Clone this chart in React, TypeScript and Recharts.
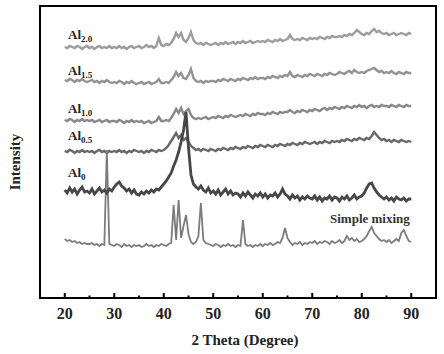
import React from "react";
import { LineChart, Line, XAxis, YAxis, ReferenceArea } from "recharts";

// 2θ sampling grid, 0.5° step from 20 to 90
const THETA = Array.from({ length: 141 }, (_, i) => 20 + i * 0.5);

// intensities (arbitrary units, traces stacked with offsets already included)
const AL_2_0 = [
  251, 250, 252, 251, 250, 252, 251, 249, 251, 252,
  250, 251, 249, 251, 252, 250, 251, 250, 252, 250,
  251, 250, 252, 250, 251, 249, 251, 252, 250, 251,
  252, 250, 251, 253, 251, 252, 250, 252, 260, 253,
  252, 254, 253, 255, 259, 265, 261, 265, 258, 256,
  260, 266, 258, 255, 254, 255, 253, 255, 254, 253,
  254, 255, 253, 255, 254, 256, 254, 255, 256, 254,
  256, 255, 257, 255, 256, 257, 255, 256, 257, 256,
  257, 256, 258, 257, 256, 258, 257, 259, 257, 258,
  259, 263, 259, 258, 259, 258, 260, 259, 258, 260,
  259, 260, 259, 261, 260, 259, 261, 260, 262, 261,
  261, 262, 261, 263, 262, 264, 263, 265, 268, 266,
  264, 263, 265, 264, 267, 269, 266, 267, 265, 264,
  265, 263, 264, 265, 263, 264, 265, 264, 263, 265,
  264,
];
const AL_1_5 = [
  218, 217, 219, 218, 216, 218, 217, 219, 217, 216,
  217, 218, 216, 217, 215, 217, 216, 218, 216, 215,
  216, 215, 217, 216, 214, 216, 215, 217, 215, 214,
  215, 216, 214, 215, 216, 214, 215, 216, 219, 215,
  215, 216, 215, 218, 221, 226, 222, 225, 220, 219,
  223, 229, 220, 217, 216, 217, 215, 217, 216, 217,
  217, 216, 218, 217, 219, 218, 217, 219, 218, 217,
  219, 218, 220, 219, 218, 220, 219, 221, 219, 220,
  220, 219, 221, 220, 222, 221, 220, 222, 221, 223,
  222, 226, 222, 221, 223, 222, 221, 223, 222, 224,
  223, 222, 224, 223, 222, 224, 223, 225, 224, 223,
  224, 226, 225, 224, 226, 227, 225, 228, 226, 225,
  226, 225, 227, 228, 229, 230, 228, 226, 227, 225,
  226, 225, 227, 225, 224, 226, 225, 224, 226, 225,
  225,
];
const AL_1_0 = [
  178, 177, 179, 178, 176, 178, 177, 179, 177, 178,
  177, 178, 176, 177, 178, 176, 177, 178, 176, 177,
  177, 176, 178, 177, 175, 177, 176, 178, 176, 177,
  176, 177, 175, 176, 177, 175, 176, 177, 181, 177,
  177, 178, 177, 180, 184, 189, 185, 190, 184, 187,
  189, 183, 180, 179, 180, 179, 180, 181, 179, 180,
  181, 180, 182, 181, 180, 182, 181, 183, 182, 181,
  182, 183, 182, 184, 183, 182, 184, 183, 185, 184,
  184, 183, 185, 184, 186, 185, 184, 186, 185, 186,
  186, 188, 186, 185, 187, 186, 188, 187, 186, 188,
  187, 189, 188, 187, 189, 190, 188, 190, 189, 191,
  190, 189, 191, 190, 192, 191, 190, 192, 191, 193,
  191, 192, 190, 192, 193, 191, 192, 191, 193, 192,
  192, 191, 193, 192, 191, 193, 192, 191, 193, 192,
  192,
];
const AL_0_5 = [
  147, 146, 148, 147, 145, 147, 146, 148, 146, 147,
  146, 147, 145, 147, 148, 146, 147, 145, 147, 146,
  147, 146, 148, 146, 147, 145, 147, 146, 148, 147,
  146, 147, 145, 147, 146, 148, 147, 146, 148, 147,
  148, 150, 153, 157, 161, 165, 160, 163, 158, 160,
  156, 152, 150, 148, 149, 147, 149, 148, 147, 149,
  148, 147, 149, 148, 150, 149, 148, 150, 149, 151,
  150, 149, 151, 150, 152, 151, 150, 152, 151, 153,
  152, 151, 153, 152, 151, 153, 152, 154, 153, 152,
  154, 153, 155, 154, 153, 155, 154, 156, 155, 154,
  155, 156, 154, 156, 155, 157, 156, 155, 157, 156,
  157, 156, 158, 157, 159, 158, 157, 159, 158, 160,
  159, 158, 160, 159, 162, 166, 163, 160, 158, 159,
  157, 158, 156, 158, 157, 156, 158, 157, 156, 157,
  156,
];
const AL_0 = [
  108, 105, 110, 106, 109, 104, 108, 111, 106, 107,
  105, 109, 104, 107, 110, 106, 108, 105, 109, 107,
  111, 114, 116, 112, 110, 107, 109, 105, 108, 104,
  103, 106, 104, 107, 105, 108, 106, 109, 108, 111,
  114, 117, 121, 125, 132, 138, 146, 156, 168, 186,
  150, 123, 114, 111, 109, 112, 108, 106, 110, 105,
  107, 104, 108, 103, 106, 109, 104, 107, 103, 105,
  104, 101, 105, 102, 106, 103, 100, 104, 102, 105,
  101, 104, 100, 103, 102, 105, 101, 104, 109, 104,
  102, 99, 103, 100, 102, 98, 101, 99, 102, 100,
  99, 102, 98, 101, 97, 100, 99, 102, 98, 101,
  100, 97, 101, 99, 102, 98, 100, 103, 99, 101,
  102, 105, 110, 114, 115, 110, 106, 103, 101, 99,
  101, 98, 100, 97, 101, 99, 98, 100, 97, 99,
  99,
];
const SIMPLE_MIX = [
  59, 57, 58, 56, 57, 55, 56, 54, 55, 54,
  54, 55, 53, 54, 52, 54, 53, 148, 54, 53,
  52, 54, 53, 51, 54, 52, 53, 51, 53, 52,
  53, 51, 52, 54, 52, 53, 51, 53, 52, 54,
  53, 52, 54, 55, 93, 58, 98, 60, 72, 83,
  64, 56, 54, 56, 62, 95, 58, 55, 54, 53,
  52, 54, 53, 51, 53, 52, 54, 52, 53, 51,
  53, 52, 78, 54, 52, 53, 51, 53, 52, 54,
  52, 54, 53, 55, 53, 54, 56, 55, 60, 70,
  60, 56, 53, 55, 54, 56, 53, 55, 54, 56,
  55, 57, 54, 56, 55, 57, 56, 54, 57, 55,
  56, 58, 55, 57, 62, 58, 60, 57, 59, 56,
  57, 59, 62, 67, 71, 65, 62, 59, 57, 58,
  56, 58, 55, 57, 59, 57, 65, 68, 62, 57,
  56,
];

const X_TICKS = [20, 25, 30, 35, 40, 45, 50, 55, 60, 65, 70, 75, 80, 85, 90];

const data = THETA.map((t, i) => ({
  t,
  a20: AL_2_0[i],
  a15: AL_1_5[i],
  a10: AL_1_0[i],
  a05: AL_0_5[i],
  a0: AL_0[i],
  mix: SIMPLE_MIX[i],
}));

const SERIF = "'Liberation Serif', 'DejaVu Serif', serif";

function Tick(props: any) {
  const { x, y, payload } = props;
  const major = payload.value % 10 === 0;
  return (
    <g>
      <line x1={x} x2={x} y1={y} y2={y - (major ? 5 : 2.5)} stroke="#000" strokeWidth={2} />
      {major && (
        <text x={x} y={y + 21} textAnchor="middle" fontFamily={SERIF} fontWeight="bold" fontSize={16} fill="#222">
          {payload.value}
        </text>
      )}
    </g>
  );
}

function SampleLabel({ x, y, sub }: { x: number; y: number; sub: string }) {
  return (
    <text x={x} y={y} fontFamily={SERIF} fontWeight="bold" fontSize={13} fill="#222">
      Al
      <tspan fontSize={9} dy={3}>{sub}</tspan>
    </text>
  );
}

export default function App() {
  return (
    <div style={{ position: "absolute", left: 0, top: 0, width: 444, height: 354, background: "#fff" }}>
      <LineChart width={444} height={354} data={data} margin={{ top: 6, right: 8, left: 40, bottom: 26 }}>
        <XAxis
          dataKey="t"
          type="number"
          domain={[15, 95]}
          ticks={X_TICKS}
          interval={0}
          height={30}
          axisLine={false}
          tickLine={false}
          tickSize={0}
          tickMargin={0}
          tick={<Tick />}
          allowDataOverflow
        />
        <YAxis hide domain={[0, 292]} />
        <ReferenceArea x1={15} x2={95} y1={0} y2={292} fill="none" stroke="#000" strokeWidth={2} ifOverflow="visible" />
        <Line dataKey="a20" stroke="#9c9c9c" strokeWidth={2.4} dot={false} isAnimationActive={false} />
        <Line dataKey="a15" stroke="#929292" strokeWidth={2.4} dot={false} isAnimationActive={false} />
        <Line dataKey="a10" stroke="#888888" strokeWidth={2.4} dot={false} isAnimationActive={false} />
        <Line dataKey="a05" stroke="#686868" strokeWidth={2.4} dot={false} isAnimationActive={false} />
        <Line dataKey="mix" stroke="#7c7c7c" strokeWidth={1.8} dot={false} isAnimationActive={false} />
        <Line dataKey="a0" stroke="#474747" strokeWidth={2.8} dot={false} isAnimationActive={false} />
      </LineChart>
      <svg width={444} height={354} style={{ position: "absolute", left: 0, top: 0, pointerEvents: "none" }}>
        <SampleLabel x={68} y={39} sub="2.0" />
        <SampleLabel x={68} y={75} sub="1.5" />
        <SampleLabel x={68} y={113} sub="1.0" />
        <SampleLabel x={68} y={140} sub="0.5" />
        <SampleLabel x={68} y={177} sub="0" />
        <text x={330} y={223} fontFamily={SERIF} fontWeight="bold" fontSize={13} fill="#333">
          Simple mixing
        </text>
        <text x={245} y={345} textAnchor="middle" fontFamily={SERIF} fontWeight="bold" fontSize={15} fill="#222">
          2 Theta (Degree)
        </text>
        <text
          x={20}
          y={162}
          textAnchor="middle"
          transform="rotate(-90 20 162)"
          fontFamily={SERIF}
          fontWeight="bold"
          fontSize={15}
          fill="#222"
        >
          Intensity
        </text>
      </svg>
    </div>
  );
}
